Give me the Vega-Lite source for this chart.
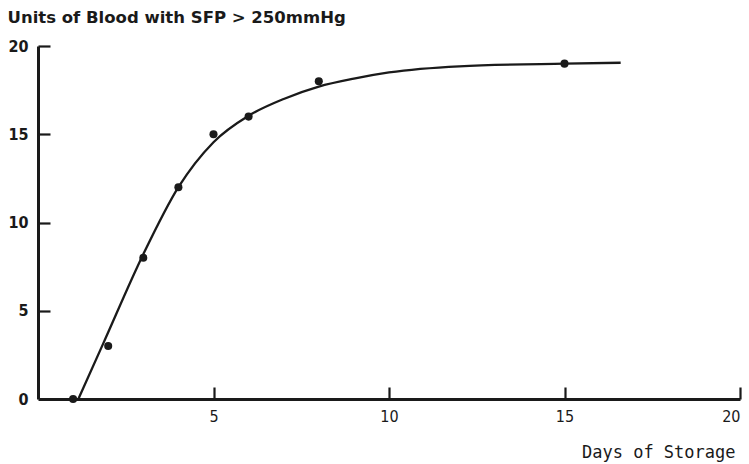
{
  "$schema": "https://vega.github.io/schema/vega-lite/v6.json",
  "width": 702,
  "height": 353,
  "autosize": {"type": "none"},
  "padding": {"left": 38, "top": 46, "right": 9, "bottom": 65},
  "background": "white",
  "config": {"view": {"stroke": null}},
  "resolve": {"axis": {"x": "independent", "y": "independent"}},
  "datasets": {
    "obs": [
      {"days": 1, "units": 0},
      {"days": 2, "units": 3},
      {"days": 3, "units": 8},
      {"days": 4, "units": 12},
      {"days": 5, "units": 15},
      {"days": 6, "units": 16},
      {"days": 8, "units": 18},
      {"days": 15, "units": 19}
    ],
    "fit": [
      {"days": 1.15, "units": 0},
      {"days": 1.86, "units": 3.15},
      {"days": 3, "units": 8.2},
      {"days": 4, "units": 12},
      {"days": 5, "units": 14.55},
      {"days": 6, "units": 16.05},
      {"days": 7, "units": 17.0},
      {"days": 8, "units": 17.7},
      {"days": 9, "units": 18.15},
      {"days": 10, "units": 18.5},
      {"days": 12, "units": 18.85},
      {"days": 15, "units": 19.0},
      {"days": 16.6, "units": 19.05}
    ]
  },
  "layer": [
    {
      "data": {"name": "fit"},
      "mark": {"type": "line", "interpolate": "monotone", "color": "#1a1a1a", "strokeWidth": 2.3},
      "encoding": {
        "x": {
          "field": "days", "type": "quantitative",
          "scale": {"domain": [0, 20], "nice": false, "zero": false},
          "axis": {
            "orient": "bottom",
            "values": [5, 10, 15, 20],
            "title": "Days of Storage",
            "titleFont": "DejaVu Sans Mono",
            "titleFontSize": 17,
            "titleFontWeight": "normal",
            "titleColor": "#1a1a1a",
            "titleAnchor": "end",
            "titleAlign": "right",
            "titleBaseline": "middle",
            "titleX": 697,
            "titleY": 53,
            "domainColor": "#1a1a1a",
            "domainWidth": 3,
            "ticks": false,
            "labelFont": "DejaVu Sans Condensed",
            "labelFontSize": 16,
            "labelColor": "#1a1a1a",
            "labelPadding": 9,
            "grid": false
          }
        },
        "y": {
          "field": "units", "type": "quantitative",
          "scale": {"domain": [0, 20], "nice": false},
          "axis": {
            "orient": "left",
            "values": [0, 5, 10, 15, 20],
            "title": "Units of Blood with SFP > 250mmHg",
            "titleFont": "DejaVu Sans",
            "titleFontSize": 16.5,
            "titleFontWeight": "bold",
            "titleColor": "#1a1a1a",
            "titleAngle": 0,
            "titleAlign": "left",
            "titleBaseline": "middle",
            "titleX": -31,
            "titleY": -29,
            "domainColor": "#1a1a1a",
            "domainWidth": 3,
            "ticks": false,
            "labelFont": "DejaVu Sans Condensed",
            "labelFontSize": 16,
            "labelFontWeight": "bold",
            "labelColor": "#1a1a1a",
            "labelPadding": 10,
            "grid": false
          }
        }
      }
    },
    {
      "data": {"name": "obs"},
      "mark": {"type": "point", "filled": true, "color": "#1a1a1a", "size": 65, "opacity": 1},
      "encoding": {
        "x": {
          "field": "days", "type": "quantitative",
          "axis": {
            "orient": "top",
            "offset": -353,
            "values": [5, 10, 15, 20],
            "title": null,
            "labels": false,
            "domain": false,
            "tickColor": "#1a1a1a",
            "tickWidth": 2.2,
            "tickSize": 12,
            "grid": false
          }
        },
        "y": {
          "field": "units", "type": "quantitative",
          "axis": {
            "orient": "right",
            "offset": -702,
            "values": [5, 10, 15, 20],
            "title": null,
            "labels": false,
            "domain": false,
            "tickColor": "#1a1a1a",
            "tickWidth": 2.2,
            "tickSize": 12,
            "grid": false
          }
        }
      }
    }
  ]
}
